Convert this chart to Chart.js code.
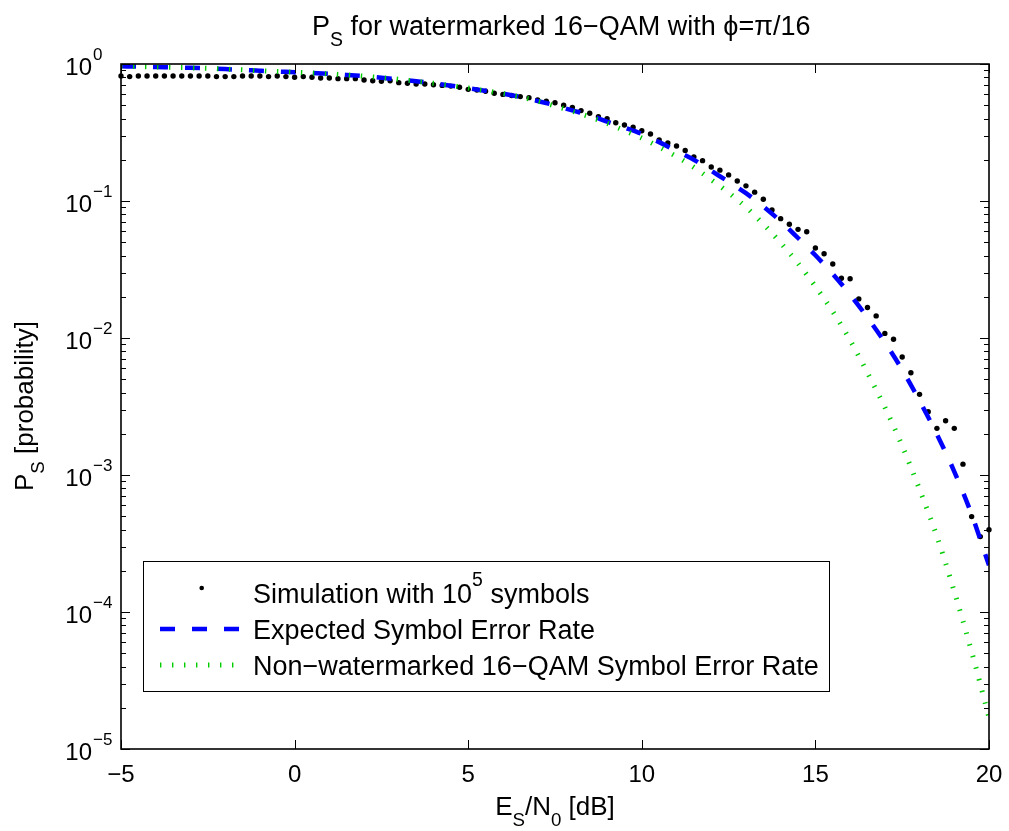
<!DOCTYPE html>
<html><head><meta charset="utf-8">
<script src="https://cdn.jsdelivr.net/npm/chart.js@4"></script>
<style>html,body{margin:0;padding:0;background:#fff;}canvas{display:block;}</style>
</head><body>
<canvas id="c" width="1009" height="831"></canvas>
<script>
// ---- data ----
const simX = [-5,-4.75,-4.5,-4.25,-4,-3.75,-3.5,-3.25,-3,-2.75,-2.5,-2.25,-2,-1.75,-1.5,-1.25,-1,-0.75,-0.5,-0.25,
0,0.25,0.5,0.75,1,1.25,1.5,1.75,2,2.25,2.5,2.75,3,3.25,3.5,3.75,4,4.25,4.5,4.75,
5,5.25,5.5,5.75,6,6.25,6.5,6.75,7,7.25,7.5,7.75,8,8.25,8.5,8.75,9,9.25,9.5,9.75,
10,10.25,10.5,10.75,11,11.25,11.5,11.75,12,12.25,12.5,12.75,13,13.25,13.5,13.75,14,14.25,14.5,14.75,
15,15.25,15.5,15.75,16,16.25,16.5,16.75,17,17.25,17.5,17.75,18,18.25,18.5,18.75,19,19.25,19.5,19.75,20];
const simPs = [0.817,0.809,0.817,0.817,0.817,0.817,0.817,0.817,0.817,0.817,0.817,0.809,0.809,0.809,0.817,0.817,0.817,0.809,0.817,0.809,
0.800,0.809,0.800,0.791,0.791,0.782,0.782,0.782,0.764,0.755,0.748,0.755,0.731,0.723,0.714,0.714,0.706,0.698,0.690,0.676,0.653,0.646,0.632,0.611,
0.600,0.589,0.578,0.568,0.546,0.535,0.522,0.500,0.481,0.457,0.437,0.412,0.399,0.373,0.359,0.345,0.326,0.308,0.279,0.265,0.252,0.234,0.210,0.197,0.177,0.168,0.155,0.140,0.129,0.116,0.103,0.0859,0.0743,0.0676,0.0621,0.0597,0.0454,0.0412,0.0347,0.0273,0.0271,0.0193,0.0167,0.0145,0.0108,0.0098,0.00726,0.00558,0.00388,0.00290,0.00219,0.00249,0.00219,0.00120,0.000497,0.000355,0.000399];
const curveX = [-5,-4.5,-4,-3.5,-3,-2.5,-2,-1.5,-1,-0.5,0,0.5,1,1.5,2,2.5,3,3.5,4,4.5,5,5.5,6,6.5,7,7.5,8,8.5,9,9.5,10,10.5,11,11.5,12,12.5,13,13.5,14,14.5,15,15.5,16,16.5,17,17.5,18,18.5,19,19.5,20];
const expectedPs = [0.962,0.957,0.951,0.944,0.938,0.929,0.918,0.906,0.893,0.881,0.871,
0.859,0.847,0.832,0.815,0.794,0.773,0.748,0.723,0.695,0.667,
0.637,0.607,0.575,0.537,0.499,0.458,0.422,0.380,0.344,0.309,
0.269,0.232,0.200,0.166,0.138,0.114,0.0912,0.0711,0.0537,0.0402,
0.0293,0.0207,0.0141,0.00929,0.00586,0.00348,0.00198,0.00106,0.000515,0.000219];
const plainPs = [0.962,0.957,0.951,0.944,0.938,0.929,0.918,0.906,0.893,0.881,0.871,
0.859,0.847,0.832,0.815,0.794,0.773,0.748,0.723,0.695,0.667,
0.637,0.607,0.575,0.536,0.494,0.452,0.412,0.369,0.327,0.288,
0.248,0.211,0.176,0.143,0.115,0.0902,0.0679,0.0495,0.0351,0.0238,
0.0156,0.00962,0.00557,0.00312,0.00163,0.000785,0.000356,0.000141,0.0000513,0.0000170];
const xTicks = [-5,0,5,10,15,20];
const xTickLabels = ['\u22125','0','5','10','15','20'];
const yTicks = [1,0.1,0.01,0.001,0.0001,0.00001];
const yTickExp = ['0','\u22121','\u22122','\u22123','\u22124','\u22125'];
const yMinor = [];
[0.1,0.01,0.001,0.0001,0.00001].forEach(d=>{[2,3,4,5,6,7,8,9].forEach(k=>yMinor.push(k*d));});
const legendLabels = [
  [{t:'Simulation with 10'},{t:'5',sup:true},{t:' symbols'}],
  [{t:'Expected Symbol Error Rate'}],
  [{t:'Non\u2212watermarked 16\u2212QAM Symbol Error Rate'}]
];
const titleParts = [{t:'P'},{t:'S',sub:true},{t:' for watermarked 16\u2212QAM with \u03d5=\u03c0/16'}];
const xTitleParts = [{t:'E'},{t:'S',sub:true},{t:'/N'},{t:'0',sub:true},{t:' [dB]'}];
const yTitleParts = [{t:'P'},{t:'S',sub:true},{t:' [probability]'}];

const BLUE = '#0000ff', GREEN = 'rgb(0,205,0)';
const FONT = '"Liberation Sans", Arial, Helvetica, sans-serif';
const f = s => s + 'px ' + FONT;

function richWidth(ctx, parts, size){
  let w = 0;
  for (const p of parts){ ctx.font = f((p.sub||p.sup)? size*0.72 : size); w += ctx.measureText(p.t).width; }
  return w;
}
function drawRich(ctx, parts, x, y, size, align){
  const w = richWidth(ctx, parts, size);
  let cx = align==='center' ? x - w/2 : (align==='right' ? x - w : x);
  ctx.textAlign = 'left'; ctx.textBaseline = 'alphabetic';
  for (const p of parts){
    const s = (p.sub||p.sup)? size*0.72 : size;
    ctx.font = f(s);
    const dy = p.sub ? size*0.42 : (p.sup ? -size*0.62 : 0);
    ctx.fillText(p.t, cx, y + dy);
    cx += ctx.measureText(p.t).width;
  }
}

const decor = {
  id: 'decor',
  beforeDraw(chart){
    const ctx = chart.ctx; ctx.save(); ctx.fillStyle='#fff'; ctx.fillRect(0,0,chart.width,chart.height); ctx.restore();
  },
  afterDatasetsDraw(chart){
    const ctx = chart.ctx, a = chart.chartArea;
    const xs = chart.scales.x, ys = chart.scales.y;
    ctx.save();
    ctx.strokeStyle = '#000'; ctx.fillStyle = '#000';
    ctx.lineWidth = 1;
    ctx.beginPath();
    for (const v of xTicks){
      const px = Math.round(xs.getPixelForValue(v)) + 0.5;
      ctx.moveTo(px, a.bottom); ctx.lineTo(px, a.bottom - 9);
      ctx.moveTo(px, a.top); ctx.lineTo(px, a.top + 9);
    }
    for (const v of yTicks){
      const py = Math.round(ys.getPixelForValue(v)) + 0.5;
      ctx.moveTo(a.left, py); ctx.lineTo(a.left + 9, py);
      ctx.moveTo(a.right, py); ctx.lineTo(a.right - 9, py);
    }
    for (const v of yMinor){
      const py = Math.round(ys.getPixelForValue(v)) + 0.5;
      ctx.moveTo(a.left, py); ctx.lineTo(a.left + 5, py);
      ctx.moveTo(a.right, py); ctx.lineTo(a.right - 5, py);
    }
    ctx.stroke();
    ctx.lineWidth = 1.6;
    ctx.strokeRect(a.left, a.top, a.right - a.left, a.bottom - a.top);
    // x tick labels
    ctx.font = f(24); ctx.textAlign = 'center'; ctx.textBaseline = 'alphabetic';
    xTicks.forEach((v,i)=>{ ctx.fillText(xTickLabels[i], xs.getPixelForValue(v), 782); });
    // y tick labels
    yTicks.forEach((v,i)=>{
      const py = ys.getPixelForValue(v);
      ctx.font = f(24); ctx.textAlign = 'right';
      ctx.fillText('10', 92, py + 11);
      ctx.font = f(17); ctx.textAlign = 'left';
      ctx.fillText(yTickExp[i], 93, py - 4);
    });
    // titles
    drawRich(ctx, titleParts, 312, 35, 27, 'left');
    drawRich(ctx, xTitleParts, (a.left + a.right)/2, 815, 26, 'center');
    ctx.save();
    ctx.translate(33, 406); ctx.rotate(-Math.PI/2);
    drawRich(ctx, yTitleParts, 0, 0, 26, 'center');
    ctx.restore();
    // legend
    const L = 143, T = 561, R = 829, B = 691;
    ctx.fillStyle = '#fff'; ctx.fillRect(L, T, R-L, B-T);
    ctx.lineWidth = 1; ctx.strokeStyle = '#000';
    ctx.strokeRect(L + 0.5, T + 0.5, R-L, B-T);
    ctx.fillStyle = '#000';
    const rows = [593, 629, 665];
    ctx.beginPath(); ctx.arc(201.7, rows[0]-5, 2.3, 0, Math.PI*2); ctx.fill();
    ctx.strokeStyle = BLUE; ctx.lineWidth = 4.5; ctx.setLineDash([15,17]); ctx.lineCap='butt';
    ctx.beginPath(); ctx.moveTo(160, rows[1]); ctx.lineTo(241, rows[1]); ctx.stroke();
    ctx.strokeStyle = GREEN; ctx.lineWidth = 5; ctx.setLineDash([1.4,10.6]);
    ctx.beginPath(); ctx.moveTo(160, rows[2]); ctx.lineTo(241, rows[2]); ctx.stroke();
    ctx.setLineDash([]);
    ctx.fillStyle = '#000';
    legendLabels.forEach((parts,i)=>{ drawRich(ctx, parts, 253, rows[i] + 9.5, 27, 'left'); });
    ctx.restore();
  }
};

new Chart(document.getElementById('c'), {
  type: 'scatter',
  data: {
    datasets: [
      { label: 'Simulation with 10^5 symbols', data: simX.map((x,i)=>({x, y: simPs[i]})),
        showLine: false, pointRadius: 2.7, pointHoverRadius: 2.7, pointBackgroundColor: '#000', pointBorderWidth: 0,
        backgroundColor: '#000', borderColor: '#000', order: 3, clip: 6 },
      { label: 'Expected Symbol Error Rate', data: curveX.map((x,i)=>({x, y: expectedPs[i]})),
        showLine: true, pointRadius: 0, borderColor: BLUE, borderWidth: 4.5, borderDash: [15,17],
        borderCapStyle: 'butt', cubicInterpolationMode: 'monotone', order: 2 },
      { label: 'Non-watermarked 16-QAM Symbol Error Rate', data: curveX.map((x,i)=>({x, y: plainPs[i]})),
        showLine: true, pointRadius: 0, borderColor: GREEN, borderWidth: 5, borderDash: [1.4,10.6],
        borderCapStyle: 'butt', cubicInterpolationMode: 'monotone', order: 1 }
    ]
  },
  options: {
    responsive: false, animation: false, devicePixelRatio: 1,
    layout: { padding: { left: 121, right: 20, top: 64, bottom: 82 } },
    plugins: { legend: { display: false }, title: { display: false }, tooltip: { enabled: false } },
    events: [],
    scales: {
      x: { type: 'linear', min: -5, max: 20, display: false },
      y: { type: 'logarithmic', min: 0.00001, max: 1, display: false }
    }
  },
  plugins: [decor]
});
</script>
</body></html>
